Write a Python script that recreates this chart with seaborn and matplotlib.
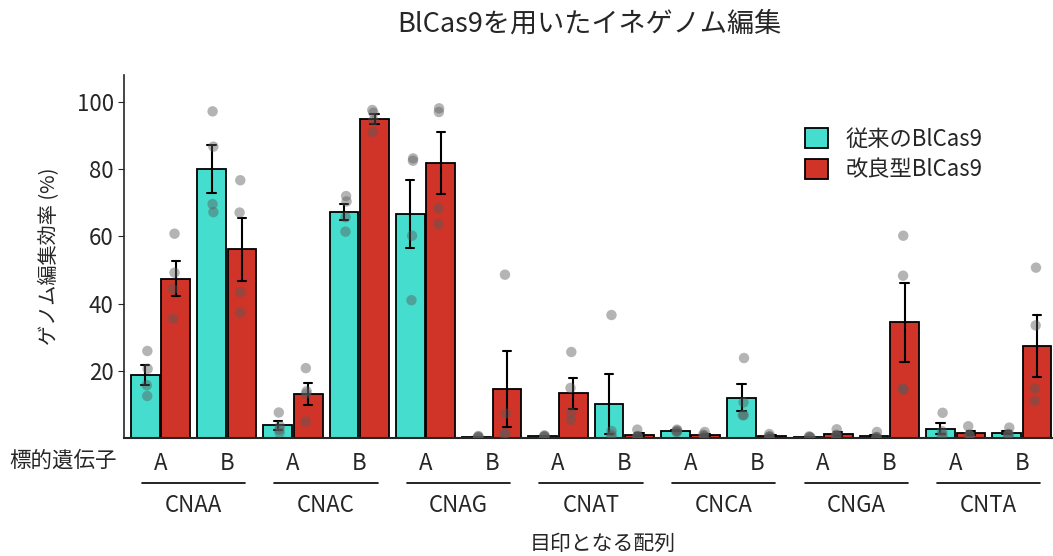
import numpy as np
import pandas as pd
import matplotlib.pyplot as plt
import matplotlib.transforms as mtransforms
import seaborn as sns

sns.set_style("ticks")
plt.rcParams['font.family'] = ['Noto Sans CJK JP', 'DejaVu Sans']

# データ
sequences = ["CNAA", "CNAC", "CNAG", "CNAT", "CNCA", "CNGA", "CNTA"]
genes = ["A", "B"]
versions = ["従来のBlCas9", "改良型BlCas9"]

# 各サンプル4反復 (%)
conv_reps = [
    [25.9, 20.6, 15.7, 12.5], [97.2, 86.7, 69.6, 67.2],
    [7.6, 3.5, 2.5, 1.6], [72.0, 70.4, 65.7, 61.4],
    [83.2, 82.5, 60.2, 41.0], [0.6, 0.4, 0.2, 0.1],
    [0.8, 0.6, 0.4, 0.3], [36.6, 2.1, 1.0, 0.5],
    [2.5, 2.2, 1.9, 1.8], [23.8, 10.6, 6.8, 6.8],
    [0.5, 0.3, 0.2, 0.1], [1.8, 0.3, 0.2, 0.1],
    [7.5, 2.0, 1.0, 0.5], [3.1, 1.2, 1.0, 1.0],
]
impr_reps = [
    [60.8, 49.2, 44.3, 35.5], [76.7, 67.1, 43.4, 37.3],
    [20.8, 13.9, 13.2, 4.9], [97.6, 96.8, 94.5, 91.0],
    [98.1, 97.0, 68.3, 63.7], [48.6, 7.3, 1.5, 1.0],
    [25.6, 14.9, 7.5, 5.3], [2.5, 0.6, 0.5, 0.4],
    [1.8, 1.0, 0.7, 0.5], [1.2, 0.5, 0.4, 0.3],
    [2.6, 1.0, 0.7, 0.5], [60.2, 48.3, 14.7, 14.4],
    [3.5, 1.0, 0.8, 0.6], [50.7, 33.5, 14.7, 11.0],
]

slots = [f"{s}-{g}" for s in sequences for g in genes]
rows = []
for i, slot in enumerate(slots):
    for v in conv_reps[i]:
        rows.append((slot, versions[0], v))
    for v in impr_reps[i]:
        rows.append((slot, versions[1], v))
df = pd.DataFrame(rows, columns=["slot", "version", "efficiency"])

colors = ["#45DECE", "#D03328"]

fig = plt.figure(figsize=(10.53, 5.56), dpi=100)
ax = fig.add_axes([0.1178, 0.2122, 0.8822, 0.6528])

sns.barplot(data=df, x="slot", y="efficiency", hue="version", order=slots,
            hue_order=versions, palette=colors, saturation=1, errorbar="se",
            capsize=0.25, width=0.92, gap=0.06, edgecolor="black", linewidth=1.3,
            err_kws={"color": "black", "linewidth": 1.5}, ax=ax)
np.random.seed(3)
sns.stripplot(data=df, x="slot", y="efficiency", hue="version", order=slots,
              hue_order=versions, dodge=True, jitter=0.03, size=7.5,
              palette=["#5a5a5a", "#5a5a5a"], alpha=0.45, legend=False, ax=ax)

ax.set_xlim(-0.55, 13.47)
ax.set_ylim(0, 108)
ax.set_yticks([20, 40, 60, 80, 100])
ax.tick_params(axis="y", labelsize=16, length=4)
ax.set_xticks(range(len(slots)))
ax.set_xticklabels([g for s in sequences for g in genes], fontsize=16)
ax.tick_params(axis="x", length=0, pad=10)
sns.despine(ax=ax)
ax.spines["left"].set_linewidth(1.2)
ax.spines["bottom"].set_linewidth(1.5)

ax.set_xlabel("")
ax.set_ylabel("ゲノム編集効率 (%)", fontsize=14.5, labelpad=12)

# 配列ごとの下線とラベル
trans = mtransforms.blended_transform_factory(ax.transData, ax.transAxes)
for i, s in enumerate(sequences):
    c = 2 * i + 0.5
    ax.plot([c - 0.78, c + 0.78], [-0.124, -0.124], color="black",
            linewidth=1.2, transform=trans, clip_on=False)
    ax.text(c, -0.185, s, transform=trans, ha="center", va="center", fontsize=16)

fig.text(0.009, 1 - 461 / 556, "標的遺伝子", ha="left", va="center", fontsize=15.5)
fig.text(0.572, 1 - 544 / 556, "目印となる配列", ha="center", va="center", fontsize=15)
fig.text(0.56, 1 - 24 / 556, "BlCas9を用いたイネゲノム編集", ha="center",
         va="center", fontsize=19.5)

handles, labels = ax.get_legend_handles_labels()
ax.legend(handles[:2], labels[:2], loc="upper left", bbox_to_anchor=(0.712, 0.91),
          frameon=False, fontsize=16, handlelength=1.0, handleheight=1.0,
          handletextpad=0.8, labelspacing=0.35)

plt.savefig("out.png", dpi=100)
